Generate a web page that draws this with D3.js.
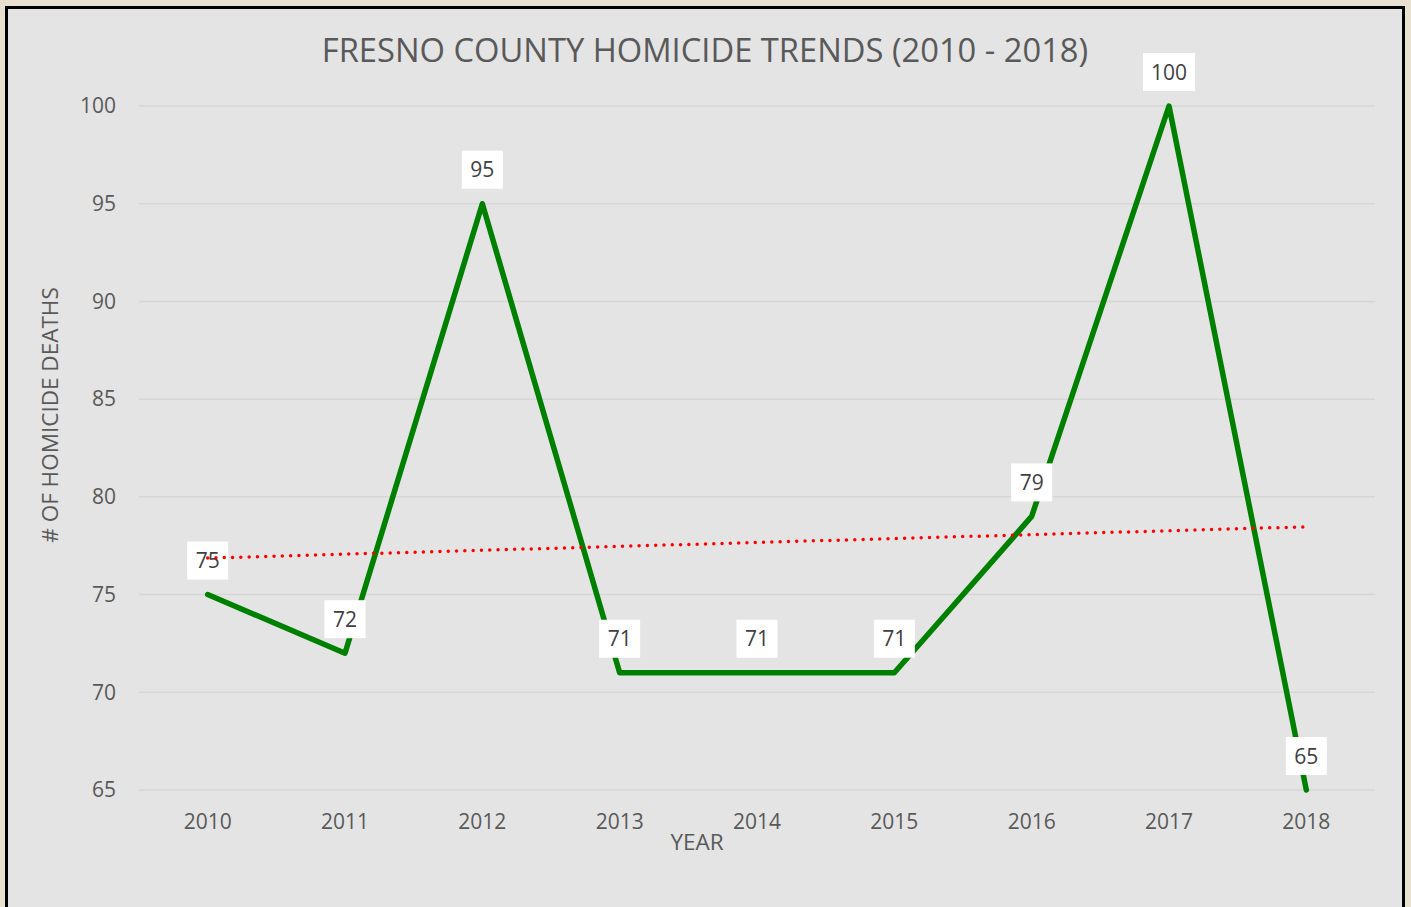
<!DOCTYPE html>
<html>
<head>
<meta charset="utf-8">
<script src="https://cdn.jsdelivr.net/npm/d3@7/dist/d3.min.js"></script>
<style>
html,body{margin:0;padding:0;background:#e8e1d2;}
svg{display:block;}
</style>
</head>
<body>
<svg id="chart" width="1411" height="907"></svg>
<script>
const years = ["2010","2011","2012","2013","2014","2015","2016","2017","2018"];
const deaths = [75, 72, 95, 71, 71, 71, 79, 100, 65];
const yTicks = [65, 70, 75, 80, 85, 90, 95, 100];
const titleText = "FRESNO COUNTY HOMICIDE TRENDS (2010 - 2018)";
const xTitle = "YEAR";
const yTitle = "# OF HOMICIDE DEATHS";

(function () {
const svg = d3.select("#chart");
const font = "'Open Sans', 'Liberation Sans', sans-serif";

// panel
svg.append("rect").attr("x", 6.5).attr("y", 7.5).attr("width", 1397).attr("height", 910)
  .attr("fill", "#e4e4e4").attr("stroke", "#000").attr("stroke-width", 3);

const pL = 139, pR = 1375, pT = 106, pB = 790;
const x = d3.scaleBand().domain(years).range([pL, pR]);
const y = d3.scaleLinear().domain([65, 100]).range([pB, pT]);
const cx = d => x(d) + x.bandwidth() / 2;

// gridlines
svg.append("g").selectAll("line").data(yTicks).join("line")
  .attr("x1", pL).attr("x2", pR)
  .attr("y1", d => y(d)).attr("y2", d => y(d))
  .attr("stroke", "#d6d6d6").attr("stroke-width", 1.5);

// y axis
const yAxis = svg.append("g").attr("transform", `translate(${pL},0)`)
  .call(d3.axisLeft(y).tickValues(yTicks).tickSize(0).tickPadding(23));
yAxis.select(".domain").remove();
yAxis.selectAll("text").attr("font-family", font).attr("font-size", 21).attr("fill", "#595959");

// x axis
const xAxis = svg.append("g").attr("transform", `translate(0,${pB})`)
  .call(d3.axisBottom(x).tickSize(0).tickPadding(24));
xAxis.select(".domain").remove();
xAxis.selectAll("text").attr("font-family", font).attr("font-size", 21).attr("fill", "#595959");

// title
svg.append("text").attr("x", 705).attr("y", 62).attr("text-anchor", "middle")
  .attr("font-family", font).attr("font-size", 32.7).attr("fill", "#595959").text(titleText);

// axis titles
svg.append("text").attr("x", 697).attr("y", 850).attr("text-anchor", "middle")
  .attr("font-family", font).attr("font-size", 22.5).attr("fill", "#595959").text(xTitle);
svg.append("text").attr("transform", "translate(58,415) rotate(-90)").attr("text-anchor", "middle")
  .attr("font-family", font).attr("font-size", 22.5).attr("fill", "#595959").text(yTitle);

// data line
const line = d3.line().x((d, i) => cx(years[i])).y(d => y(d));
svg.append("path").datum(deaths).attr("d", line)
  .attr("fill", "none").attr("stroke", "#008000").attr("stroke-width", 5.5)
  .attr("stroke-linejoin", "round").attr("stroke-linecap", "round");

// data labels
const lbl = svg.append("g").selectAll("g").data(deaths).join("g")
  .attr("transform", (d, i) => `translate(${cx(years[i])},${y(d) - 15})`);
lbl.append("rect")
  .attr("x", d => -(String(d).length * 11 + 19) / 2)
  .attr("y", -38)
  .attr("width", d => String(d).length * 11 + 19)
  .attr("height", 38).attr("fill", "#ffffff");
lbl.append("text").attr("x", 0).attr("y", -11.5).attr("text-anchor", "middle")
  .attr("font-family", font).attr("font-size", 21).attr("fill", "#404040")
  .text(d => d);

// linear trendline (least squares over data), drawn above labels
const n = deaths.length;
const idx = d3.range(n);
const mx = d3.mean(idx), my = d3.mean(deaths);
const slope = d3.sum(idx, i => (i - mx) * (deaths[i] - my)) / d3.sum(idx, i => (i - mx) ** 2);
const icpt = my - slope * mx;
svg.append("line")
  .attr("x1", cx(years[0])).attr("y1", y(icpt))
  .attr("x2", cx(years[n - 1])).attr("y2", y(icpt + slope * (n - 1)))
  .attr("stroke", "#ff0000").attr("stroke-width", 3.5)
  .attr("stroke-dasharray", "0 8.3").attr("stroke-linecap", "round");
})();
</script>
</body>
</html>
